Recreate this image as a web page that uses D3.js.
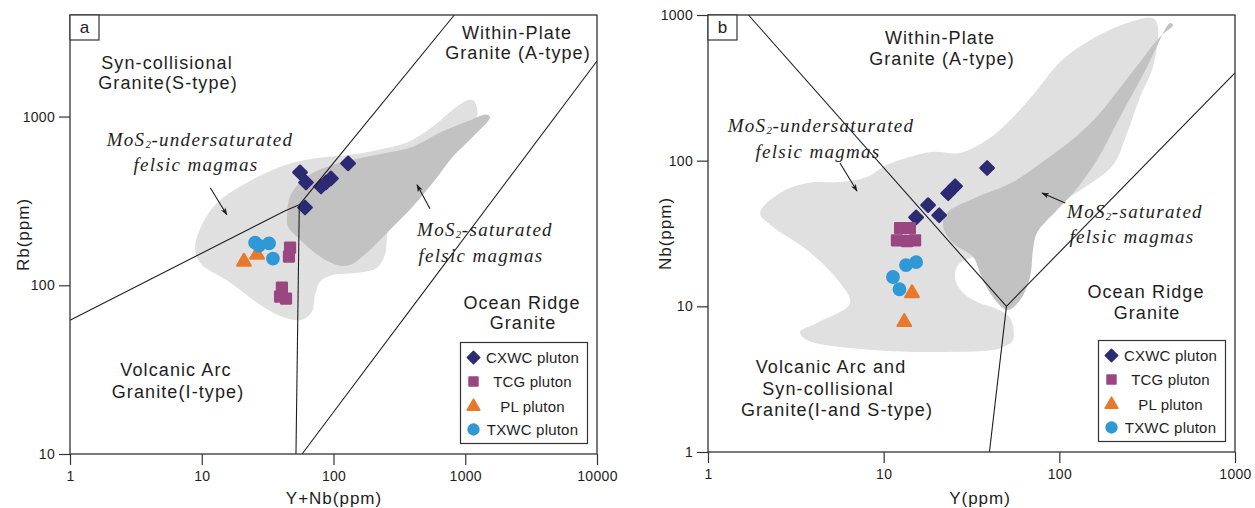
<!DOCTYPE html>
<html>
<head>
<meta charset="utf-8">
<script src="https://cdn.jsdelivr.net/npm/d3@7/dist/d3.min.js"></script>
<style>
body { margin: 0; background: #fff; }
svg text { font-family: "Liberation Sans", Arial, sans-serif; fill: #1e1e1e; }
.field { font-size: 18px; letter-spacing: 1.1px; }
.mos { font-family: "Liberation Serif", "Times New Roman", serif; font-style: italic; font-size: 19px; letter-spacing: 1.3px; }
.tick text { font-size: 14px; letter-spacing: 0.3px; }
.title { font-size: 17px; letter-spacing: 1px; }
.leg { font-size: 15px; letter-spacing: 0.2px; }
</style>
</head>
<body>
<svg id="chart" width="1255" height="508"></svg>
<script>
// ---- panel a : Rb vs Y+Nb ----
var cxwcA = [[55.7, 467], [61.8, 407], [80.4, 385], [87.7, 407], [95.7, 430], [129, 528], [60.8, 289]];
var tcgA = [[46.8, 167], [45.9, 148], [40.6, 96.8], [39.3, 85.7], [43.6, 83.4]];
var plA = [[20.9, 138], [26.3, 152]];
var txwcA = [[25.4, 179], [27.2, 172], [32.4, 177], [34.7, 144]];

// field outlines (ppm)
var underA = [[8.9, 169], [10.2, 235], [13.1, 309], [19.5, 385], [34.7, 484], [52.8, 540], [79, 571], [141, 595],
    [225, 637], [361, 701], [569, 873], [865, 1146], [1087, 1262], [1186, 1211], [1228, 1000], [996, 782],
    [540, 423], [293, 245], [259, 208], [246, 152], [214, 127], [159, 119], [94, 114], [79, 105], [72.5, 88],
    [68.7, 70], [57.7, 62.4], [42.9, 64.1], [29.2, 74.5], [16.4, 104], [9.7, 136]];
var satA = [[44.4, 255], [46.8, 335], [58.7, 423], [79, 485], [141, 556], [255, 611], [401, 663], [643, 804],
    [1031, 934], [1462, 1028], [1541, 987], [1145, 760], [807, 580], [569, 406], [381, 281], [255, 205],
    [179, 156], [133, 132], [106, 132], [79, 148], [55.7, 186], [45.2, 222]];

var linesA = [
    [[1, 62], [43, 277], [55, 300]],
    [[55, 300], [826, 4000]],
    [[55, 300], [51.9, 10]],
    [[57.7, 10], [10000, 2134]]
];
var arrowsA = [[[11.6, 379], [15.5, 262]], [[540, 284], [430, 394]]];
var xTicksA = [1, 10, 100, 1000, 10000];
var yTicksA = [10, 100, 1000];

// ---- panel b : Nb vs Y ----
var cxwcB = [[38.8, 89], [25.5, 66.7], [23.3, 59.7], [17.9, 49.5], [20.7, 42.2], [15.3, 40.8]];
var tcgB = [[12.4, 34.4], [14.1, 34.4], [11.9, 28.4], [13.6, 28.0], [15.1, 28.4]];
var plB = [[14.5, 12.3], [13.1, 7.8]];
var txwcB = [[15.3, 20.1], [13.4, 19.2], [11.3, 15.9], [12.3, 13.1]];

var underB = [[1.98, 43.7], [2.57, 60], [3.66, 70.3], [5.64, 71.3], [8.03, 77.2], [10.4, 93.4], [14.1, 106],
    [19.1, 115], [27.2, 113], [38.8, 139], [50.4, 181], [70.8, 282], [101, 476], [150, 673], [243, 881],
    [341, 953], [364, 827], [341, 440], [288, 274], [243, 155], [202, 93.4], [135, 64], [90, 47],
    [66, 31], [45.9, 25.1], [32.3, 21.8], [26.5, 19.2], [25.5, 15.6], [28.3, 12.4], [35.3, 10.5], [44.2, 9.6],
    [52.4, 8.3], [54.5, 5.87], [47.8, 5.26], [41.9, 5.01], [22.9, 4.86], [8.7, 5.01], [3.66, 5.87],
    [3.34, 6.67], [4.17, 7.69], [6.43, 10.5], [5.64, 14.5], [3.66, 24.4], [2.34, 35.1]];
var satB = [[444, 853], [374, 706], [288, 476], [221, 315], [170, 212], [123, 145], [82.8, 101], [54.5, 71.3],
    [33.1, 55.4], [22.9, 43.7], [21.8, 35.6], [24.8, 27.2], [32.3, 21.8], [36.3, 15.6], [41.9, 11.6],
    [50.4, 9.44], [59.7, 11.0], [68.1, 15.9], [70.8, 24.4], [74.6, 31.9], [97, 45.8], [120, 60], [164, 101],
    [221, 199], [316, 440], [427, 881]];

var linesB = [
    [[1.7, 1000], [50, 10]],
    [[50, 10], [1000, 400]],
    [[50, 10], [40, 1]]
];
var arrowsB = [[[5.64, 96.4], [7.05, 61.9]], [[108, 51.2], [79.7, 60]]];
var xTicksB = [1, 10, 100, 1000];
var yTicksB = [1, 10, 100, 1000];

var seriesNames = ["CXWC pluton", "TCG pluton", "PL pluton", "TXWC pluton"];
var seriesColors = ["#2c2a73", "#9a4681", "#e8792c", "#2f98d6"];
var seriesShapes = ["diamond", "square", "triangle", "circle"];

var svg = d3.select("#chart");

svg.append("defs").append("marker")
    .attr("id", "head")
    .attr("viewBox", "0 0 10 10")
    .attr("refX", 9).attr("refY", 5)
    .attr("markerWidth", 7).attr("markerHeight", 7)
    .attr("orient", "auto")
    .append("path")
    .attr("d", "M0,1.5L10,5L0,8.5L2.5,5Z")
    .attr("fill", "#1e1e1e");

function symbolPath(shape, big) {
    var s;
    if (shape == "diamond") s = d3.symbol(d3.symbolSquare, big ? 92 : 78);
    else if (shape == "square") s = d3.symbol(d3.symbolSquare, big ? 100 : 80);
    else if (shape == "triangle") s = d3.symbol(d3.symbolTriangle, big ? 80 : 70);
    else s = d3.symbol(d3.symbolCircle, big ? 150 : 120);
    return s();
}

function drawPoints(g, x, y, data, k) {
    g.selectAll(null).data(data).enter().append("path")
        .attr("d", symbolPath(seriesShapes[k], true))
        .attr("transform", function (d) {
            return "translate(" + x(d[0]) + "," + y(d[1]) + ")" + (seriesShapes[k] == "diamond" ? " rotate(45)" : "");
        })
        .attr("fill", seriesColors[k])
        .attr("stroke", seriesColors[k])
        .attr("stroke-width", seriesShapes[k] == "circle" ? 0 : 2.2)
        .attr("stroke-linejoin", "round");
}

function drawLegend(g, bx, by) {
    g.append("rect").attr("x", bx).attr("y", by).attr("width", 127).attr("height", 101)
        .attr("fill", "#fff").attr("stroke", "#333").attr("stroke-width", 1.2);
    var rows = [15, 39, 64, 87];
    for (var i = 0; i < 4; i++) {
        g.append("path")
            .attr("d", symbolPath(seriesShapes[i], false))
            .attr("transform", "translate(" + (bx + 13) + "," + (by + rows[i]) + ")" + (seriesShapes[i] == "diamond" ? " rotate(45)" : ""))
            .attr("fill", seriesColors[i])
            .attr("stroke", seriesColors[i])
            .attr("stroke-width", seriesShapes[i] == "circle" ? 0 : 1.5)
            .attr("stroke-linejoin", "round");
        g.append("text").attr("class", "leg")
            .attr("x", bx + 72).attr("y", by + rows[i] + 5.5)
            .attr("text-anchor", "middle")
            .text(seriesNames[i]);
    }
}

function mosLabel(g, cx, cy, sat) {
    var t = g.append("text").attr("class", "mos").attr("x", cx).attr("y", cy).attr("text-anchor", "middle");
    t.append("tspan").text("MoS");
    t.append("tspan").attr("font-size", "11px").attr("dy", 2).attr("letter-spacing", "0.5px").text("2");
    t.append("tspan").attr("dy", -2).text(sat ? "-saturated" : "-undersaturated");
}

function fieldLabel(g, lines, cx, cy, dy) {
    lines.forEach(function (s, i) {
        g.append("text").attr("class", "field")
            .attr("x", cx[i]).attr("y", cy + i * dy)
            .attr("text-anchor", "middle")
            .text(s);
    });
}

function drawPanel(p) {
    var g = svg.append("g");
    var x = p.x, y = p.y;
    var x0 = x.range()[0], x1 = x.range()[1], y0 = y.range()[1], y1 = y.range()[0];

    var blob = d3.line().x(function (d) { return x(d[0]); }).y(function (d) { return y(d[1]); })
        .curve(d3.curveCatmullRomClosed.alpha(0.5));
    var straight = d3.line().x(function (d) { return x(d[0]); }).y(function (d) { return y(d[1]); });

    g.append("path").attr("d", blob(p.under)).attr("fill", "#e0e0e0");
    g.append("path").attr("d", blob(p.sat)).attr("fill", "#c2c2c2");

    drawPoints(g, x, y, p.cxwc, 0);
    drawPoints(g, x, y, p.tcg, 1);
    drawPoints(g, x, y, p.pl, 2);
    drawPoints(g, x, y, p.txwc, 3);

    g.selectAll(null).data(p.lines).enter().append("path")
        .attr("d", straight)
        .attr("fill", "none")
        .attr("stroke", "#1e1e1e")
        .attr("stroke-width", 1.1);

    g.selectAll(null).data(p.arrows).enter().append("path")
        .attr("d", straight)
        .attr("fill", "none")
        .attr("stroke", "#1e1e1e")
        .attr("stroke-width", 1.1)
        .attr("marker-end", "url(#head)");

    // axes
    var ax = g.append("g").attr("transform", "translate(0," + y1 + ")")
        .call(d3.axisBottom(x).tickValues(p.xTicks).tickFormat(d3.format("d")).tickSize(11).tickPadding(6));
    var ay = g.append("g").attr("transform", "translate(" + x0 + ",0)")
        .call(d3.axisLeft(y).tickValues(p.yTicks).tickFormat(d3.format("d")).tickSize(11).tickPadding(4));
    [ax, ay].forEach(function (a) {
        a.select(".domain").remove();
        a.selectAll(".tick line").attr("stroke", "#333").attr("stroke-width", 1.2);
        a.selectAll(".tick text").attr("fill", "#1e1e1e").style("font-family", "Liberation Sans, Arial, sans-serif");
    });

    g.append("rect").attr("x", x0).attr("y", y0).attr("width", x1 - x0).attr("height", y1 - y0)
        .attr("fill", "none").attr("stroke", "#333").attr("stroke-width", 1.3);

    g.append("rect").attr("x", x0).attr("y", y0).attr("width", 29).attr("height", 25)
        .attr("fill", "#fff").attr("stroke", "#333").attr("stroke-width", 1.2);
    g.append("text").attr("x", x0 + 14.5).attr("y", y0 + 18).attr("text-anchor", "middle")
        .attr("font-size", "17px").text(p.name);

    g.append("text").attr("class", "title")
        .attr("x", p.xTitleX).attr("y", 504).attr("text-anchor", "middle").text(p.xTitle);
    g.append("text").attr("class", "title")
        .attr("transform", "translate(" + p.yTitleX + "," + ((y0 + y1) / 2) + ") rotate(-90)")
        .attr("text-anchor", "middle").text(p.yTitle);

    return g;
}

var xA = d3.scaleLog().domain([1, 10000]).range([70, 597]);
var yA = d3.scaleLog().domain([10, 4000]).range([454, 15]);
var xB = d3.scaleLog().domain([1, 1000]).range([708, 1235]);
var yB = d3.scaleLog().domain([1, 1000]).range([452, 15]);

var gA = drawPanel({
    name: "a", x: xA, y: yA, under: underA, sat: satA, lines: linesA, arrows: arrowsA,
    cxwc: cxwcA, tcg: tcgA, pl: plA, txwc: txwcA, xTicks: xTicksA, yTicks: yTicksA,
    xTitle: "Y+Nb(ppm)", xTitleX: 334, yTitle: "Rb(ppm)", yTitleX: 29
});
fieldLabel(gA, ["Syn-collisional", "Granite(S-type)"], [167, 168], 69, 20);
fieldLabel(gA, ["Within-Plate", "Granite (A-type)"], [517, 518], 39, 20);
fieldLabel(gA, ["Ocean Ridge", "Granite"], [522, 523], 309, 20);
fieldLabel(gA, ["Volcanic Arc", "Granite(I-type)"], [176, 178], 376, 22);
mosLabel(gA, 200, 146, false);
gA.append("text").attr("class", "mos").attr("x", 196).attr("y", 171).attr("text-anchor", "middle").text("felsic magmas");
mosLabel(gA, 485, 236, true);
gA.append("text").attr("class", "mos").attr("x", 481).attr("y", 262).attr("text-anchor", "middle").text("felsic magmas");
drawLegend(gA, 460.5, 342.5);

var gB = drawPanel({
    name: "b", x: xB, y: yB, under: underB, sat: satB, lines: linesB, arrows: arrowsB,
    cxwc: cxwcB, tcg: tcgB, pl: plB, txwc: txwcB, xTicks: xTicksB, yTicks: yTicksB,
    xTitle: "Y(ppm)", xTitleX: 980, yTitle: "Nb(ppm)", yTitleX: 671
});
fieldLabel(gB, ["Within-Plate", "Granite (A-type)"], [940, 942], 44, 21);
fieldLabel(gB, ["Ocean Ridge", "Granite"], [1146, 1147], 298, 21);
fieldLabel(gB, ["Volcanic Arc and", "Syn-collisional", "Granite(I-and S-type)"], [831, 828, 837], 373, 21.5);
mosLabel(gB, 821, 132, false);
gB.append("text").attr("class", "mos").attr("x", 818).attr("y", 158).attr("text-anchor", "middle").text("felsic magmas");
mosLabel(gB, 1135, 218, true);
gB.append("text").attr("class", "mos").attr("x", 1132).attr("y", 243).attr("text-anchor", "middle").text("felsic magmas");
drawLegend(gB, 1098.5, 340.5);
</script>
</body>
</html>
